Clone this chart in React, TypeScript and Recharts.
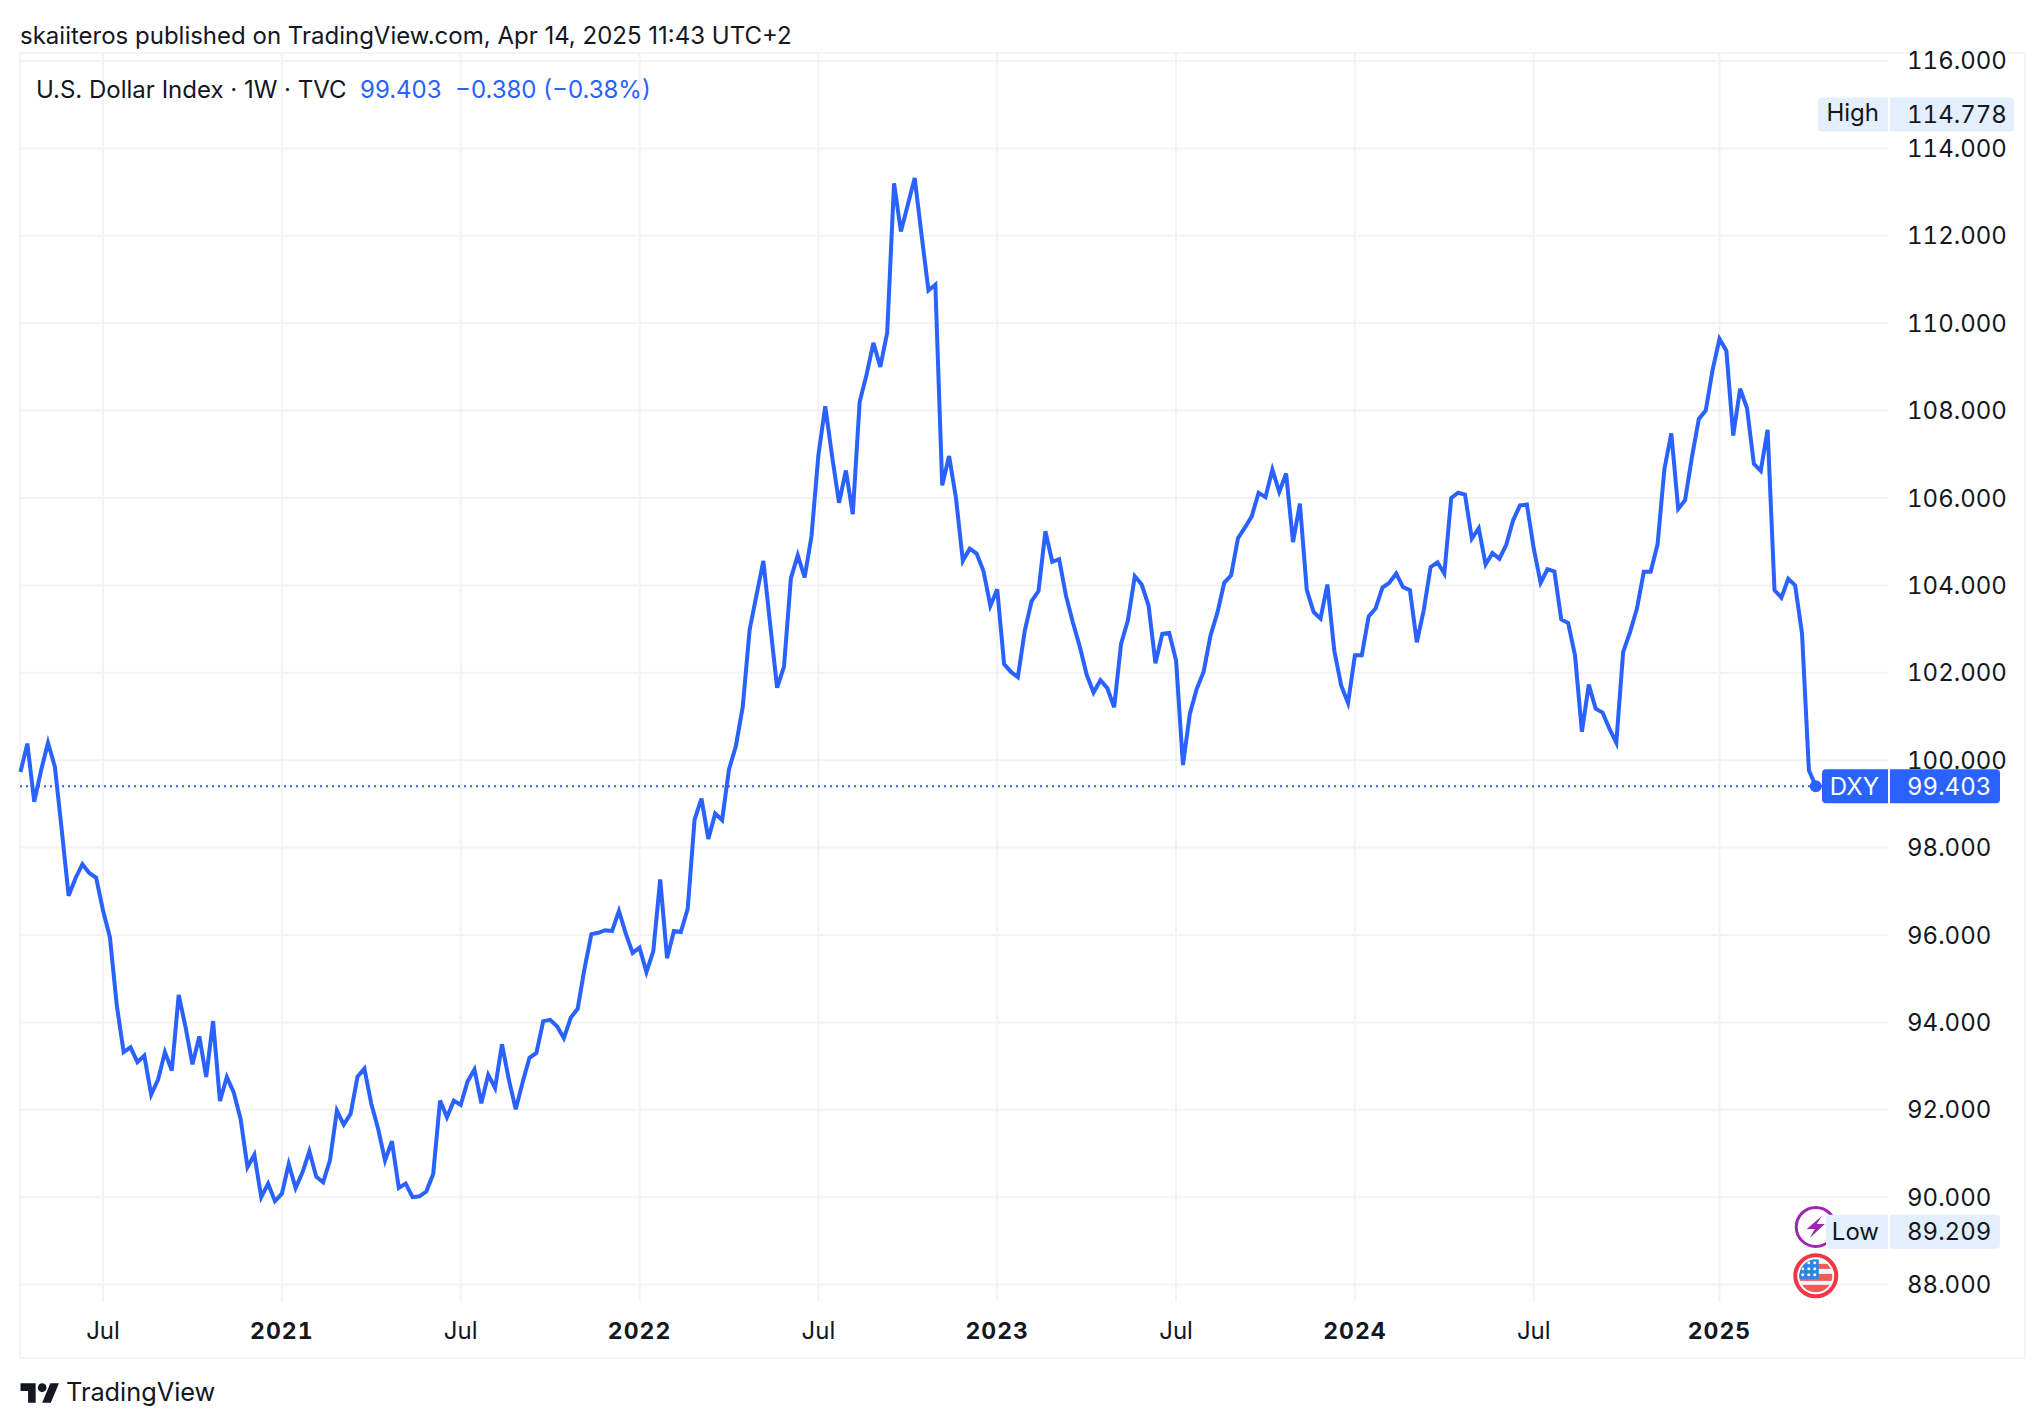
import { LineChart, Line, XAxis, YAxis, CartesianGrid, ReferenceLine, ReferenceDot } from "recharts";

// weekly closes, first visible week to last
const closes = [
  99.73, 100.38, 99.05, 99.77, 100.4, 99.85, 98.4, 96.9, 97.3, 97.62, 97.42, 97.31, 96.56, 95.95, 94.39, 93.32,
  93.43, 93.09, 93.24, 92.35, 92.69, 93.32, 92.9, 94.63, 93.89, 93.04, 93.68, 92.75, 94.03, 92.2, 92.75, 92.4,
  91.79, 90.69, 90.97, 90.0, 90.31, 89.91, 90.08, 90.76, 90.21, 90.57, 91.05, 90.47, 90.34, 90.85, 91.98, 91.66,
  91.91, 92.76, 92.94, 92.14, 91.56, 90.84, 91.28, 90.21, 90.31, 90.0, 90.02, 90.13, 90.53, 92.21, 91.83, 92.21,
  92.11, 92.65, 92.92, 92.15, 92.8, 92.5, 93.5, 92.69, 92.01, 92.63, 93.19, 93.3, 94.03, 94.06, 93.91, 93.64,
  94.11, 94.31, 95.23, 96.02, 96.05, 96.11, 96.09, 96.55, 96.03, 95.59, 95.71, 95.15, 95.63, 97.27, 95.47, 96.09,
  96.07, 96.6, 98.64, 99.12, 98.2, 98.78, 98.63, 99.79, 100.32, 101.22, 102.98, 103.78, 104.56, 103.09, 101.66, 102.14,
  104.16, 104.69, 104.18, 105.13, 106.98, 108.1, 106.95, 105.89, 106.63, 105.63, 108.2, 108.82, 109.55, 109.0, 109.78, 113.2,
  112.1, 112.71, 113.32, 112.02, 110.75, 110.88, 106.29, 106.96, 106.0, 104.56, 104.84, 104.73, 104.33, 103.53, 103.91, 102.2,
  102.02, 101.9, 102.96, 103.64, 103.87, 105.24, 104.54, 104.6, 103.76, 103.15, 102.6, 101.96, 101.55, 101.83, 101.65, 101.21,
  102.66, 103.2, 104.21, 104.02, 103.54, 102.22, 102.89, 102.91, 102.28, 99.89, 101.06, 101.63, 102.02, 102.85, 103.37, 104.06,
  104.23, 105.08, 105.32, 105.58, 106.12, 106.02, 106.65, 106.14, 106.56, 104.99, 105.87, 103.9, 103.39, 103.24, 104.02, 102.51,
  101.71, 101.31, 102.4, 102.4, 103.29, 103.47, 103.95, 104.06, 104.27, 103.96, 103.89, 102.7, 103.43, 104.42, 104.53, 104.27,
  106.0, 106.12, 106.08, 105.07, 105.31, 104.48, 104.74, 104.61, 104.93, 105.49, 105.83, 105.85, 104.84, 104.06, 104.37, 104.32,
  103.22, 103.14, 102.4, 100.65, 101.73, 101.18, 101.09, 100.72, 100.4, 102.48, 102.93, 103.47, 104.31, 104.31, 104.94, 106.67,
  107.48, 105.75, 105.95, 106.94, 107.81, 108.0, 108.93, 109.64, 109.37, 107.43, 108.5, 108.06, 106.78, 106.62, 107.56, 103.89,
  103.72, 104.15, 104.0, 102.9, 99.77, 99.403,
];
const data = closes.map((close, week) => ({ week, close }));

const priceTicks = [88, 90, 92, 94, 96, 98, 100, 102, 104, 106, 108, 110, 112, 114, 116];
const timeTicks = [12, 38, 64, 90, 116, 142, 168, 194, 220, 247];
const timeLabels = ["Jul", "2021", "Jul", "2022", "Jul", "2023", "Jul", "2024", "Jul", "2025"];

const lastClose = 99.403;
const highValue = 114.778;
const lowValue = 89.209;
const lastWeek = closes.length - 1;
// the two event badges sit near the bottom of the scale under the last bar
const eventBadgeLevel = 89.32;
const flagBadgeLevel = 88.2;

const FONT = "Inter, sans-serif";
const BLUE = "#2962ff";
const INK = "#131722";
const GRID = "#f2f3f4";
const TAG_BG = "#e3effd";
const TABULAR = { fontVariantNumeric: "tabular-nums" };

function TimeTick({ x, y, payload }: any) {
  const label = timeLabels[timeTicks.indexOf(payload.value)];
  const isYear = label !== "Jul";
  return (
    <text
      x={x}
      y={y + 29}
      textAnchor="middle"
      fontFamily={FONT}
      fontSize={isYear ? 23 : 24}
      fontWeight={isYear ? 700 : 400}
      letterSpacing={isYear ? 1 : 0}
      fill={INK}
      style={TABULAR}
    >
      {label}
    </text>
  );
}

function PriceTick({ x, y, payload }: any) {
  return (
    <text x={x} y={y + 8.5} fontFamily={FONT} fontSize={24} fill={INK} style={TABULAR}>
      {payload.value.toFixed(3)}
    </text>
  );
}

// price tag drawn at a value: name box + value box, right of the plot
function PriceTag({ cy, name, value, nameLeft, valueRight, nameDy = 0, bg, color }: any) {
  const plotRight = 1888;
  const top = cy - 17;
  const textY = cy + 8.5;
  return (
    <g fontFamily={FONT} fontSize={24} fill={color}>
      <path
        d={`M${nameLeft + 4} ${top}H${plotRight}V${top + 34}H${nameLeft + 4}a4 4 0 0 1 -4 -4V${top + 4}a4 4 0 0 1 4 -4z`}
        fill={bg}
      />
      <path
        d={`M${plotRight + 2} ${top}H${valueRight - 4}a4 4 0 0 1 4 4V${top + 30}a4 4 0 0 1 -4 4H${plotRight + 2}z`}
        fill={bg}
      />
      <text x={plotRight - 9} y={textY + nameDy} textAnchor="end">
        {name}
      </text>
      <text x={1907} y={textY} style={TABULAR}>
        {value}
      </text>
    </g>
  );
}

function EventBadge({ cx, cy }: any) {
  return (
    <g>
      <circle cx={cx} cy={cy} r={19.5} fill="#fff" stroke="#9c27b0" strokeWidth={3} />
      <path
        d={`M${cx + 6} ${cy - 11}L${cx - 9} ${cy + 2}H${cx - 1}L${cx - 6} ${cy + 11}L${cx + 9} ${cy - 3}H${cx + 1}z`}
        fill="#9c27b0"
      />
    </g>
  );
}

function FlagBadge({ cx, cy }: any) {
  const clipId = "flag-clip";
  return (
    <g>
      <circle cx={cx} cy={cy} r={20.5} fill="#fff" stroke="#f23645" strokeWidth={4} />
      <clipPath id={clipId}>
        <circle cx={cx} cy={cy} r={16.5} />
      </clipPath>
      <g clipPath={`url(#${clipId})`}>
        <rect x={cx - 17} y={cy - 17} width={34} height={34} fill="#f5f5f7" />
        <rect x={cx - 17} y={cy - 12} width={34} height={5} fill="#f25a55" />
        <rect x={cx - 17} y={cy - 2} width={34} height={7} fill="#f25a55" />
        <rect x={cx - 17} y={cy + 9} width={34} height={8} fill="#f25a55" />
        <rect x={cx - 17} y={cy - 17} width={20} height={20} fill="#2a86e6" />
        {[-12, -6, 0].map((dy) =>
          [-12, -6, 0].map((dx) => (
            <circle key={`${dx}${dy}`} cx={cx + dx - 1} cy={cy + dy - 1} r={1.5} fill="#fff" />
          ))
        )}
      </g>
    </g>
  );
}

function Label({ left, top, color = INK, size = 24, children }: any) {
  return (
    <div
      style={{
        position: "absolute",
        left,
        top,
        fontFamily: FONT,
        fontSize: size,
        lineHeight: "30px",
        color,
        whiteSpace: "pre",
      }}
    >
      {children}
    </div>
  );
}

export default function App() {
  return (
    <div style={{ position: "absolute", left: 0, top: 0, width: 2044, height: 1428, background: "#fff", overflow: "hidden" }}>
      {/* frame round chart + axes */}
      <div style={{ position: "absolute", left: 19, top: 52, width: 2003, height: 1303, border: "2px solid #f3f4f6" }} />

      <LineChart
        width={2044}
        height={1428}
        data={data}
        margin={{ top: 53, right: 20, bottom: 71, left: 20 }}
        style={{ position: "absolute", left: 0, top: 0 }}
      >
        <CartesianGrid stroke={GRID} strokeWidth={2} syncWithTicks />
        <XAxis
          dataKey="week"
          type="number"
          domain={[-0.07, 271.5]}
          ticks={timeTicks}
          interval={0}
          height={55}
          axisLine={false}
          tickLine={false}
          tick={<TimeTick />}
        />
        <YAxis
          orientation="right"
          domain={[87.602, 116.183]}
          ticks={priceTicks}
          interval={0}
          width={136}
          axisLine={false}
          tickLine={false}
          tickSize={0}
          tickMargin={19}
          tick={<PriceTick />}
        />
        <ReferenceLine y={lastClose} stroke={BLUE} strokeWidth={2} strokeDasharray="2 4" />
        <Line
          dataKey="close"
          type="linear"
          stroke={BLUE}
          strokeWidth={4}
          dot={false}
          isAnimationActive={false}
        />
        <ReferenceDot x={lastWeek} y={lastClose} r={6} fill={BLUE} stroke="none" />
        <ReferenceDot x={lastWeek} y={eventBadgeLevel} shape={<EventBadge />} />
        <ReferenceDot x={lastWeek} y={flagBadgeLevel} shape={<FlagBadge />} />
        <ReferenceDot
          x={lastWeek}
          y={highValue}
          shape={<PriceTag name="High" value={highValue.toFixed(3)} nameLeft={1818} valueRight={2014} nameDy={-2} bg={TAG_BG} color={INK} />}
        />
        <ReferenceDot
          x={lastWeek}
          y={lowValue}
          shape={<PriceTag name="Low" value={lowValue.toFixed(3)} nameLeft={1826} valueRight={2000} bg={TAG_BG} color={INK} />}
        />
        <ReferenceDot
          x={lastWeek}
          y={lastClose}
          shape={<PriceTag name="DXY" value={lastClose.toFixed(3)} nameLeft={1822} valueRight={2000} bg={BLUE} color="#fff" />}
        />
      </LineChart>

      <Label left={20} top={21}>skaiiteros published on TradingView.com, Apr 14, 2025 11:43 UTC+2</Label>
      <Label left={36} top={75}>U.S. Dollar Index · 1W · TVC</Label>
      <Label left={360} top={75} color={BLUE}>99.403</Label>
      <Label left={455} top={75} color={BLUE}>−0.380 (−0.38%)</Label>

      <svg style={{ position: "absolute", left: 20, top: 1379 }} width={40} height={26} viewBox="0 0 36 24" fill={INK}>
        <path d="M14 22H7V11H0V4h14v18zM28 22h-8l7.5-18h8L28 22z" />
        <circle cx="20" cy="8" r="4" />
      </svg>
      <Label left={66} top={1377} size={25.3}>TradingView</Label>
    </div>
  );
}
